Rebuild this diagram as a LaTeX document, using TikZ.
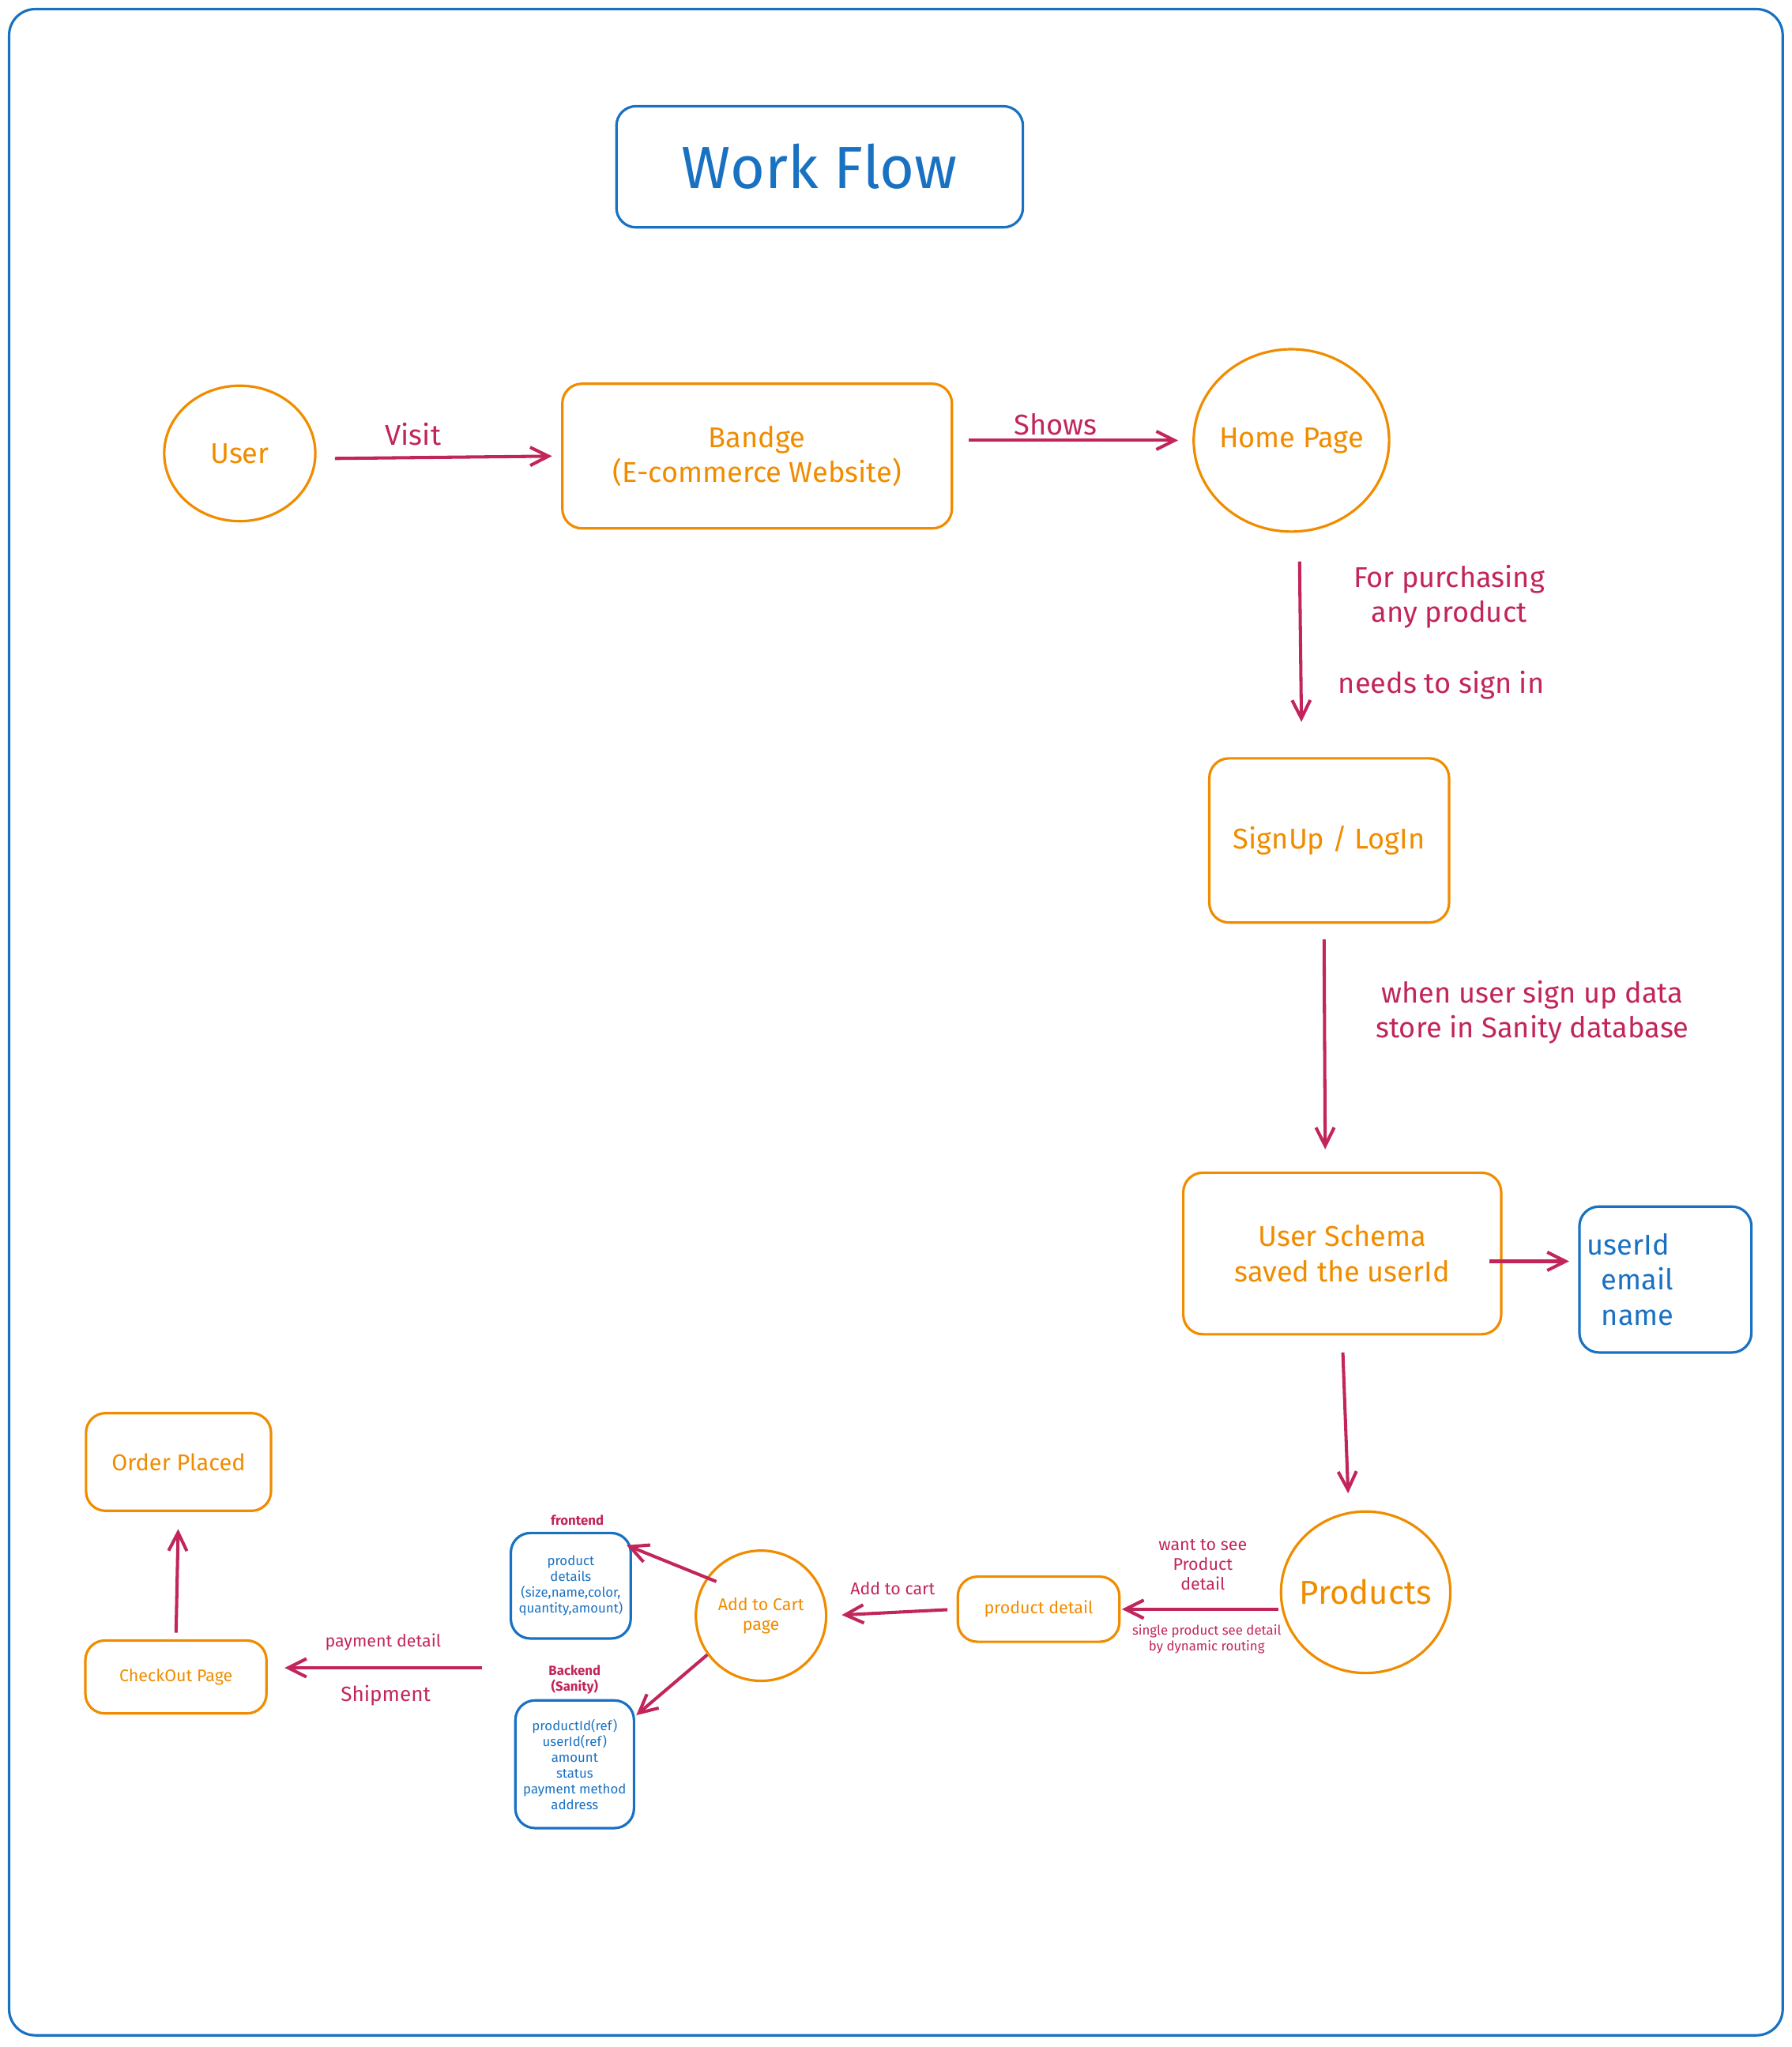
\documentclass[tikz,border=0pt]{standalone}
\usepackage{fontspec}
\setmainfont{Fira Sans}
\usetikzlibrary{arrows.meta,shapes.geometric}
\definecolor{boxorange}{HTML}{F08C00}
\definecolor{arrowpink}{HTML}{C2255C}
\definecolor{frameblue}{HTML}{1971C2}
\newcommand{\boxcolor}{boxorange}
\newcommand{\linkcolor}{arrowpink}
\newcommand{\notecolor}{frameblue}
\newcommand{\thickness}{1.1pt}
\newcommand{\titlesize}{\fontsize{26}{30}\selectfont}
\newcommand{\mainsize}{\fontsize{12.5}{15.3}\selectfont}
\newcommand{\midsize}{\fontsize{9}{10.5}\selectfont}
\newcommand{\smallsize}{\fontsize{7.4}{8.6}\selectfont}
\newcommand{\tinysize}{\fontsize{5.8}{6.9}\selectfont}

\begin{document}
\begin{tikzpicture}[x=0.02cm, y=-0.02cm,
  box/.style={draw=\boxcolor, text=\boxcolor, line width=\thickness, rounded corners=0.3cm, align=center, inner sep=0pt},
  blob/.style={draw=\boxcolor, text=\boxcolor, line width=\thickness, ellipse, align=center, inner sep=0pt},
  notebox/.style={draw=\notecolor, text=\notecolor, line width=\thickness, rounded corners=0.3cm, align=center, inner sep=0pt},
  flow/.style={draw=\linkcolor, line width=1.4pt, -{Straight Barb[length=0.28cm,width=0.28cm]}},
  lbl/.style={text=\linkcolor, align=center, inner sep=0pt}]
\useasboundingbox (0,0) rectangle (1375,1571);
\draw[\notecolor, line width=\thickness, rounded corners=0.4cm] (7,7) rectangle (1368,1562);
%title
\node[notebox, minimum width=6.24cm, minimum height=1.86cm, font=\titlesize] (title) at (629,128) {Work Flow};
%top row
\node[blob, minimum width=2.32cm, minimum height=2.08cm, font=\mainsize] (user) at (184,348) {User};
\node[box, minimum width=5.98cm, minimum height=2.22cm, font=\mainsize] (site) at (581,350) {Bandge\\(E-commerce Website)};
\node[blob, inner xsep=-0.1cm, minimum width=3.0cm, minimum height=2.8cm, font=\mainsize] (home) at (991,338) {Home Page};
\draw[flow, shorten <=0.28cm, shorten >=0.14cm] ([yshift=-0.08cm]user.east) -- (site.west);
\draw[flow, shorten <=0.24cm, shorten >=0.22cm] (site.east |- home.west) -- (home.west);
\node[lbl, font=\mainsize] (visit) at (317,333) {Visit};
\node[lbl, font=\mainsize] (shows) at (810,326) {Shows};
%sign in
\node[box, minimum width=3.68cm, minimum height=2.52cm, font=\mainsize] (signin) at (1020,645) {SignUp / LogIn};
\draw[flow, shorten <=0.44cm, shorten >=0.54cm] ([xshift=0.12cm]home.south) -- ([xshift=-0.42cm]signin.north);
\node[lbl, font=\mainsize] (purchase) at (1112,458) {For purchasing\\ any product};
\node[lbl, font=\mainsize] (needs) at (1106,526) {needs to sign in};
%schema
\node[box, minimum width=4.88cm, minimum height=2.48cm, font=\mainsize] (schema) at (1030,962) {User Schema\\saved the userId};
\node[notebox, minimum width=2.64cm, minimum height=2.24cm, text width=2.4cm, align=left, font=\mainsize] (fields) at (1278,982) {userId\\\hspace*{0.22cm}email\\\hspace*{0.22cm}name};
\draw[flow, shorten <=0.24cm, shorten >=0.34cm] ([xshift=-0.08cm]signin.south) -- ([xshift=-0.26cm]schema.north);
\draw[flow, shorten <=-0.2cm, shorten >=0.14cm] ([yshift=-0.12cm]schema.east) -- ([yshift=-0.12cm]schema.east -| fields.west);
\node[lbl, font=\mainsize] (store) at (1176,777) {when user sign up data\\store in Sanity database};
%products
\node[blob, inner xsep=-0.15cm, minimum width=2.6cm, minimum height=2.48cm, font=\fontsize{14.5}{17}\selectfont] (products) at (1048,1222) {Products};
\node[box, minimum width=2.48cm, minimum height=1.0cm, font=\smallsize] (detail) at (797,1235) {product detail};
\draw[flow, shorten <=0.26cm, shorten >=0.26cm] (schema.south) -- ([xshift=-0.26cm]products.north);
\draw[flow, shorten <=0.02cm, shorten >=0.02cm] (products.west |- detail.east) -- (detail.east);
\node[lbl, font=\smallsize] (wantsee) at (923,1201) {want to see\\Product\\detail};
\node[lbl, font=\tinysize] (routing) at (926,1258) {single product see detail\\by dynamic routing};
%cart
\node[blob, minimum width=2.0cm, minimum height=2.0cm, font=\smallsize] (cart) at (584,1240) {Add to Cart\\page};
\draw[flow, shorten <=0.14cm, shorten >=0.22cm] (detail.west) -- (cart.east);
\node[lbl, font=\smallsize] (addcart) at (685,1219) {Add to cart};
\node[notebox, minimum width=1.84cm, minimum height=1.62cm, font=\tinysize] (front) at (438,1217) {product\\details\\(size,name,color,\\quantity,amount)};
\node[notebox, minimum width=1.82cm, minimum height=1.96cm, font=\tinysize] (back) at (441,1354) {productId(ref)\\userId(ref)\\amount\\status\\payment method\\address};
\node[lbl, font=\tinysize\bfseries] (frontlbl) at (443,1167) {frontend};
\node[lbl, font=\tinysize\bfseries] (backlbl) at (441,1289) {Backend\\(Sanity)};
\draw[flow, shorten <=-0.16cm, shorten >=0.02cm] (cart.145) -- ([shift={(-0.1cm,-0.2cm)}]front.north east);
\draw[flow, shorten <=0.0cm, shorten >=0.02cm] (cart.216) -- ([yshift=-0.26cm]back.north east);
%checkout
\node[box, minimum width=2.78cm, minimum height=1.12cm, font=\smallsize] (checkout) at (135,1287) {CheckOut Page};
\node[box, minimum width=2.84cm, minimum height=1.5cm, font=\fontsize{10}{12}\selectfont] (placed) at (137,1122) {Order Placed};
\coordinate (pay) at (370,1280);
\draw[flow, shorten >=0.26cm] (pay) -- (checkout.east |- pay);
\draw[flow, shorten <=0.1cm, shorten >=0.26cm] (checkout.north) -- (placed.south);
\node[lbl, font=\smallsize] (paylbl) at (294,1260) {payment detail};
\node[lbl, font=\midsize] (ship) at (296,1301) {Shipment};
\end{tikzpicture}
\end{document}
